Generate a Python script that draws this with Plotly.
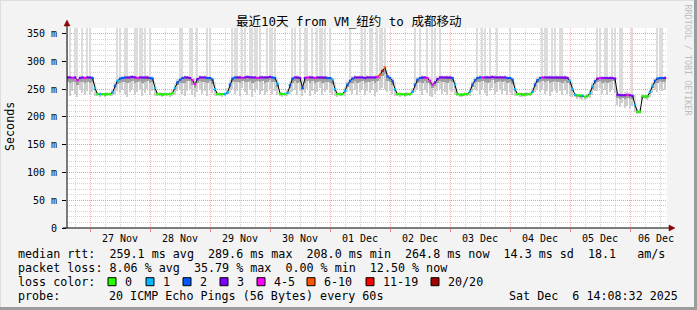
import plotly.graph_objects as go
from datetime import datetime, timedelta

# ---------------- data (hourly, starting 2025-11-26 15:00) ----------------
start_time = datetime(2025, 11, 26, 15, 0)
n_hours = 240

median_ms = [
    271, 271, 270, 271, 266, 270, 271, 270, 271, 271, 270, 252, 241, 241, 241, 240, 241, 241, 244, 256,
    265, 269, 270, 271, 271, 271, 272, 271, 270, 271, 271, 271, 271, 270, 269, 252, 241, 241, 240, 241,
    241, 241, 243, 252, 262, 267, 270, 271, 271, 270, 266, 259, 268, 271, 271, 271, 270, 270, 267, 250,
    241, 241, 241, 241, 244, 258, 269, 271, 271, 271, 270, 271, 272, 271, 271, 271, 270, 271, 271, 271,
    271, 272, 271, 270, 260, 242, 241, 241, 243, 257, 269, 271, 271, 270, 252, 270, 271, 271, 271, 270,
    271, 271, 271, 271, 270, 270, 267, 250, 241, 241, 241, 247, 258, 265, 269, 271, 271, 271, 271, 270,
    271, 271, 271, 271, 272, 276, 283, 289, 273, 270, 265, 250, 241, 241, 241, 240, 241, 241, 245, 258,
    267, 270, 271, 271, 270, 265, 258, 262, 268, 271, 271, 271, 271, 271, 270, 258, 241, 240, 240, 241,
    241, 246, 258, 266, 270, 271, 271, 271, 271, 271, 272, 271, 271, 271, 271, 271, 270, 270, 267, 250,
    241, 241, 240, 240, 241, 241, 245, 258, 266, 270, 271, 271, 271, 271, 271, 271, 271, 271, 271, 271,
    270, 265, 250, 240, 239, 239, 238, 236, 238, 243, 255, 264, 269, 270, 270, 270, 270, 270, 270, 269,
    240, 239, 239, 239, 240, 239, 238, 222, 209, 209, 237, 237, 237, 245, 256, 265, 269, 270, 270, 270,
]

# loss class index per hour: 0:'0' 1:'1' 2:'2' 3:'3' 4:'4-5' 5:'6-10' 6:'11-19' 7:'20/20'
loss_class = [
    3, 3, 4, 3, 4, 3, 3, 4, 3, 3, 2, 1, 0, 1, 0, 0, 0, 0, 1, 2,
    1, 2, 2, 2, 3, 3, 3, 3, 4, 3, 3, 3, 3, 2, 2, 1, 0, 0, 0, 0,
    0, 0, 0, 1, 2, 2, 2, 3, 3, 3, 4, 4, 3, 3, 3, 3, 2, 2, 2, 1,
    0, 0, 0, 1, 1, 2, 2, 2, 3, 3, 4, 3, 3, 3, 3, 3, 4, 3, 3, 3,
    3, 3, 2, 2, 1, 0, 0, 0, 1, 2, 2, 3, 3, 3, 2, 3, 4, 3, 3, 4,
    3, 3, 3, 3, 2, 2, 1, 1, 0, 0, 0, 1, 2, 2, 2, 3, 3, 3, 3, 3,
    3, 3, 3, 3, 4, 5, 7, 5, 2, 2, 2, 1, 0, 0, 0, 0, 0, 0, 1, 2,
    2, 2, 3, 3, 4, 4, 4, 3, 3, 3, 3, 3, 3, 3, 2, 1, 0, 0, 0, 0,
    0, 1, 2, 2, 2, 2, 4, 3, 3, 3, 3, 3, 3, 3, 3, 3, 2, 2, 2, 1,
    0, 0, 0, 0, 0, 0, 1, 2, 2, 2, 4, 3, 3, 3, 3, 3, 3, 3, 3, 3,
    3, 1, 1, 1, 0, 0, 1, 0, 0, 1, 1, 2, 3, 4, 3, 3, 3, 3, 3, 3,
    3, 3, 3, 3, 4, 3, 3, 1, 0, 0, 0, 0, 0, 1, 1, 2, 2, 2, 2, 3,
]

# lowest ping of each hour (bottom of the smoke)
smoke_min = [
    244, 238, 247, 241, 236, 249, 243, 240, 246, 239, 245, 238, 237, 236, 237, 236, 237, 237, 238, 240,
    246, 243, 248, 241, 236, 245, 250, 239, 244, 248, 237, 243, 251, 240, 246, 238, 237, 237, 236, 237,
    237, 236, 238, 240, 246, 249, 242, 238, 247, 251, 240, 236, 244, 249, 241, 246, 238, 250, 243, 238,
    237, 237, 236, 237, 239, 243, 250, 242, 246, 238, 252, 244, 240, 248, 236, 245, 250, 241, 247, 239,
    244, 251, 242, 246, 240, 237, 236, 237, 238, 242, 245, 249, 240, 246, 238, 243, 250, 237, 247, 241,
    245, 252, 239, 244, 248, 243, 240, 237, 236, 237, 237, 238, 244, 247, 242, 248, 239, 245, 251, 240,
    246, 243, 249, 238, 245, 248, 252, 250, 244, 247, 241, 238, 237, 236, 237, 236, 237, 237, 239, 244,
    248, 246, 240, 249, 243, 238, 236, 241, 247, 251, 242, 245, 239, 248, 244, 239, 237, 236, 236, 237,
    237, 238, 244, 249, 247, 241, 250, 243, 238, 246, 252, 240, 245, 249, 242, 247, 239, 244, 240, 237,
    237, 236, 236, 236, 237, 237, 239, 244, 248, 245, 250, 241, 247, 238, 244, 251, 243, 246, 240, 248,
    242, 238, 236, 235, 233, 232, 231, 230, 232, 234, 240, 246, 246, 252, 242, 248, 239, 245, 250, 243,
    222, 218, 225, 216, 220, 214, 219, 208, 205, 205, 230, 232, 231, 236, 243, 248, 245, 251, 247, 249,
]

# highest ping of each hour (values above 360 ms run off the top of the chart)
smoke_max = [
    420, 420, 274, 420, 420, 275, 420, 274, 420, 420, 273, 262, 244, 244, 243, 243, 244, 245, 250, 263,
    420, 420, 274, 420, 420, 275, 276, 420, 420, 420, 420, 420, 275, 420, 273, 262, 244, 244, 243, 244,
    243, 244, 248, 260, 268, 420, 420, 275, 274, 420, 420, 270, 420, 275, 274, 275, 420, 420, 272, 262,
    244, 244, 243, 244, 252, 266, 420, 420, 420, 275, 420, 420, 276, 420, 420, 420, 420, 420, 275, 274,
    420, 420, 420, 420, 268, 246, 244, 244, 249, 265, 420, 420, 275, 420, 268, 420, 420, 275, 420, 274,
    420, 420, 420, 420, 274, 420, 272, 262, 244, 244, 243, 254, 265, 420, 273, 275, 274, 275, 420, 420,
    275, 420, 420, 275, 420, 420, 420, 420, 282, 275, 271, 262, 244, 244, 243, 243, 244, 244, 252, 420,
    271, 420, 275, 274, 420, 272, 420, 420, 273, 420, 275, 274, 275, 275, 274, 266, 244, 243, 243, 244,
    244, 253, 265, 271, 420, 275, 420, 420, 275, 420, 276, 275, 420, 275, 274, 275, 274, 420, 272, 262,
    244, 244, 243, 243, 244, 244, 252, 265, 271, 274, 420, 420, 420, 275, 420, 420, 275, 420, 420, 275,
    274, 271, 262, 243, 242, 242, 241, 240, 241, 250, 262, 270, 420, 420, 274, 420, 420, 274, 420, 420,
    246, 420, 420, 245, 246, 245, 420, 240, 214, 214, 241, 240, 241, 252, 263, 270, 420, 420, 420, 274,
]

loss_labels = ['0', '1', '2', '3', '4-5', '6-10', '11-19', '20/20']
loss_colors = ['#26ff00', '#00b8ff', '#0059ff', '#7e00ff', '#ff00ff', '#ff5500', '#ff0000', '#a10000']

y_tick_vals = [0, 50, 100, 150, 200, 250, 300, 350]
y_tick_text = ['0', '50 m', '100 m', '150 m', '200 m', '250 m', '300 m', '350 m']
day_labels = ['27 Nov', '28 Nov', '29 Nov', '30 Nov', '01 Dec', '02 Dec', '03 Dec', '04 Dec', '05 Dec', '06 Dec']
day_label_noons = ['2025-11-27 12:00', '2025-11-28 12:00', '2025-11-29 12:00', '2025-11-30 12:00',
                   '2025-12-01 12:00', '2025-12-02 12:00', '2025-12-03 12:00', '2025-12-04 12:00',
                   '2025-12-05 12:00', '2025-12-06 10:30']

title_text = '最近10天 from VM_纽约 to 成都移动'
stats_row1 = 'median rtt:  259.1 ms avg  289.6 ms max  208.0 ms min  264.8 ms now  14.3 ms sd  18.1   am/s'
stats_row2 = 'packet loss: 8.06 % avg  35.79 % max  0.00 % min  12.50 % now'
probe_text = '20 ICMP Echo Pings (56 Bytes) every 60s'
stamp_text = 'Sat Dec  6 14:08:32 2025'

# ---------------- derived ----------------
times = [start_time + timedelta(hours=k) for k in range(n_hours)]
HOUR_MS = 3600 * 1000

MONO = 'DejaVu Sans Mono'
MONO_CJK = 'DejaVu Sans Mono, Noto Sans CJK SC'

fig = go.Figure()

# light smoke above the median (incl. outliers reaching past the top)
fig.add_trace(go.Bar(
    x=times, base=median_ms, y=[hi - m for hi, m in zip(smoke_max, median_ms)],
    width=[0.55 * HOUR_MS] * n_hours, marker=dict(color='#dcdcdc', line=dict(width=0)),
    hoverinfo='skip'))
# smoke below the median
fig.add_trace(go.Bar(
    x=times, base=smoke_min, y=[m - lo for m, lo in zip(median_ms, smoke_min)],
    width=[0.6 * HOUR_MS] * n_hours, marker=dict(color='#cdcdcd', line=dict(width=0)),
    hoverinfo='skip'))
# darker core of the smoke, right under the median
core_h = [0.3 * (m - lo) for m, lo in zip(median_ms, smoke_min)]
fig.add_trace(go.Bar(
    x=times, base=[m - c for m, c in zip(median_ms, core_h)], y=core_h,
    width=[HOUR_MS] * n_hours, marker=dict(color='#a0a0a0', line=dict(width=0)),
    hoverinfo='skip'))

# median line (black connector)
fig.add_trace(go.Scatter(x=times, y=median_ms, mode='lines',
                         line=dict(color='#000000', width=1), hoverinfo='skip'))

# loss-coloured median segments
half = timedelta(minutes=30)
for ci, col in enumerate(loss_colors):
    xs, ys = [], []
    for t, m, c in zip(times, median_ms, loss_class):
        if c == ci:
            xs += [t - half, t + half, None]
            ys += [m, m, None]
    if xs:
        fig.add_trace(go.Scatter(x=xs, y=ys, mode='lines',
                                 line=dict(color=col, width=2.2), hoverinfo='skip'))

# ---------------- layout ----------------
W_FIG, H_FIG = 697, 310
L, T, PW, PH = 67, 28, 600, 200


def fx(px):
    return (px - L) / PW


def fy(py):
    return (T + PH - py) / PH


annotations = []
annotations.append(dict(text=title_text, x=fx(348.5), y=fy(21), xref='paper', yref='paper',
                        xanchor='center', yanchor='middle', showarrow=False,
                        font=dict(family=MONO_CJK, size=12.5, color='#000000')))
annotations.append(dict(text='Seconds', x=fx(10), y=fy(127), xref='paper', yref='paper',
                        xanchor='center', yanchor='middle', textangle=-90, showarrow=False,
                        font=dict(family=MONO, size=11.7, color='#000000')))
annotations.append(dict(text='RRDTOOL / TOBI OETIKER', x=fx(687.5), y=fy(60), xref='paper', yref='paper',
                        xanchor='center', yanchor='middle', textangle=90, showarrow=False,
                        font=dict(family=MONO, size=8.4, color='#bdbdbd')))
for lab, xv in zip(day_labels, day_label_noons):
    annotations.append(dict(text=lab, x=xv, y=fy(238), xref='x', yref='paper',
                            xanchor='center', yanchor='middle', showarrow=False,
                            font=dict(family=MONO, size=10, color='#000000')))

leg_font = dict(family=MONO, size=11.7, color='#000000')
row_y = [254.3, 268.3, 281.7, 296]
annotations.append(dict(text=stats_row1.replace(' ', '&nbsp;'), x=fx(16), y=fy(row_y[0]), xref='paper', yref='paper',
                        xanchor='left', yanchor='middle', showarrow=False, font=leg_font))
annotations.append(dict(text=stats_row2.replace(' ', '&nbsp;'), x=fx(16), y=fy(row_y[1]), xref='paper', yref='paper',
                        xanchor='left', yanchor='middle', showarrow=False, font=leg_font))
annotations.append(dict(text='loss&nbsp;color:', x=fx(16), y=fy(row_y[2]), xref='paper', yref='paper',
                        xanchor='left', yanchor='middle', showarrow=False, font=leg_font))
annotations.append(dict(text='probe:', x=fx(16), y=fy(row_y[3]), xref='paper', yref='paper',
                        xanchor='left', yanchor='middle', showarrow=False, font=leg_font))
annotations.append(dict(text=probe_text.replace(' ', '&nbsp;'), x=fx(107), y=fy(row_y[3]), xref='paper', yref='paper',
                        xanchor='left', yanchor='middle', showarrow=False, font=leg_font))
annotations.append(dict(text=stamp_text.replace(' ', '&nbsp;'), x=fx(680), y=fy(row_y[3]), xref='paper', yref='paper',
                        xanchor='right', yanchor='middle', showarrow=False, font=leg_font))

shapes = []
box_x = [108, 146, 183, 220, 257, 307, 366, 431]
for bx, lab, col in zip(box_x, loss_labels, loss_colors):
    shapes.append(dict(type='rect', xref='paper', yref='paper',
                       x0=fx(bx), x1=fx(bx + 8), y0=fy(row_y[2] + 4), y1=fy(row_y[2] - 4),
                       fillcolor=col, line=dict(color='#000000', width=1)))
    annotations.append(dict(text=lab, x=fx(bx + 15), y=fy(row_y[2]), xref='paper', yref='paper',
                            xanchor='left', yanchor='middle', showarrow=False, font=leg_font))

# axis lines and arrows
shapes.append(dict(type='line', xref='paper', yref='paper', x0=fx(67), x1=fx(67), y0=fy(228), y1=fy(24),
                   line=dict(color='#000000', width=1)))
shapes.append(dict(type='line', xref='paper', yref='paper', x0=fx(63), x1=fx(670), y0=fy(228), y1=fy(228),
                   line=dict(color='#000000', width=1)))
shapes.append(dict(type='path', xref='paper', yref='paper',
                   path=f'M {fx(64)} {fy(26)} L {fx(70)} {fy(26)} L {fx(67)} {fy(20)} Z',
                   fillcolor='#8b0000', line=dict(color='#8b0000', width=0.5)))
shapes.append(dict(type='path', xref='paper', yref='paper',
                   path=f'M {fx(669)} {fy(225)} L {fx(669)} {fy(231)} L {fx(675)} {fy(228)} Z',
                   fillcolor='#8b0000', line=dict(color='#8b0000', width=0.5)))
# image frame
shapes.append(dict(type='line', xref='paper', yref='paper', x0=fx(0), x1=fx(697), y0=fy(0.5), y1=fy(0.5),
                   line=dict(color='#dedede', width=1)))
shapes.append(dict(type='line', xref='paper', yref='paper', x0=fx(0.5), x1=fx(0.5), y0=fy(0), y1=fy(310),
                   line=dict(color='#dedede', width=1)))
shapes.append(dict(type='line', xref='paper', yref='paper', x0=fx(0), x1=fx(697), y0=fy(308.5), y1=fy(308.5),
                   line=dict(color='#9c9c9c', width=3)))
shapes.append(dict(type='line', xref='paper', yref='paper', x0=fx(695.5), x1=fx(695.5), y0=fy(0), y1=fy(310),
                   line=dict(color='#9c9c9c', width=3)))

fig.update_layout(
    width=W_FIG, height=H_FIG,
    margin=dict(l=L, r=W_FIG - L - PW, t=T, b=H_FIG - T - PH, pad=0),
    paper_bgcolor='#f3f3f3', plot_bgcolor='#ffffff',
    barmode='overlay', bargap=0, showlegend=False,
    annotations=annotations, shapes=shapes,
    xaxis=dict(type='date', range=['2025-11-26 14:48', '2025-12-06 14:48'],
               showgrid=True, gridcolor='#f7b4b4', griddash='1px,1px', gridwidth=1,
               tick0='2025-11-27 00:00', dtick=86400000, showticklabels=False,
               ticks='outside', ticklen=3, tickcolor='#f08080',
               minor=dict(dtick=21600000, showgrid=True, gridcolor='#d4d4d4', griddash='1px,1px',
                          gridwidth=1, ticks=''),
               zeroline=False, showline=False, fixedrange=True),
    yaxis=dict(range=[0, 360], tickvals=y_tick_vals, ticktext=y_tick_text,
               showgrid=True, gridcolor='#f59a9a', griddash='1px,1px', gridwidth=1,
               minor=dict(dtick=10, showgrid=True, gridcolor='#d4d4d4', griddash='1px,1px',
                          gridwidth=1, ticks=''),
               ticks='outside', ticklen=4, tickcolor='#000000', ticklabelstandoff=3,
               tickfont=dict(family=MONO, size=10, color='#000000'),
               zeroline=False, showline=False, fixedrange=True),
)

fig.write_html('out.html')
